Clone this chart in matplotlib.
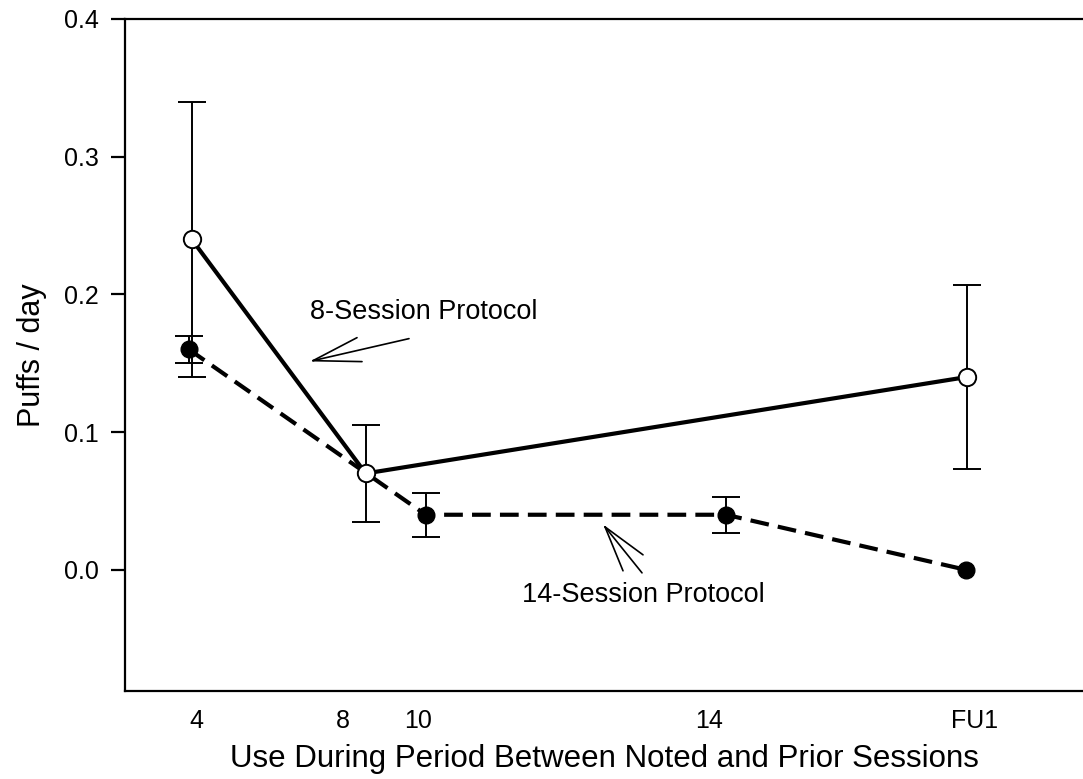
import matplotlib
matplotlib.use("Agg")
import matplotlib.pyplot as plt

plt.rcParams['font.family'] = ['Liberation Sans', 'DejaVu Sans']

# x positions (horizontal position units along the axis)
x_8 = [191.7, 365.7, 966.7]
y_8 = [0.24, 0.07, 0.14]
err_8 = [0.10, 0.035, 0.067]

x_14 = [189.0, 425.7, 726.0, 966.0]
y_14 = [0.16, 0.04, 0.04, 0.0]
err_14 = [0.01, 0.016, 0.013, 0.0]

tick_pos = [196.7, 343.0, 418.0, 709.0, 975.0]
tick_labels = ['4', '8', '10', '14', 'FU1']
yticks = [0.0, 0.1, 0.2, 0.3, 0.4]

W, H = 1083, 779
fig = plt.figure(figsize=(W / 100, H / 100), dpi=100)
ax = fig.add_axes([125 / W, 1 - 690.6 / H, (W - 125) / W, (690.6 - 19) / H])

ax.set_xlim(125, 1083)
ax.set_ylim(-0.0877, 0.4)

# error bars
ax.errorbar(x_8, y_8, yerr=err_8, fmt='none', ecolor='black', elinewidth=1.4,
            capsize=10, capthick=1.4, zorder=2)
ax.errorbar(x_14[:3], y_14[:3], yerr=err_14[:3], fmt='none', ecolor='black',
            elinewidth=1.4, capsize=10, capthick=1.4, zorder=2)

# lines
ax.plot(x_14, y_14, color='black', lw=3, linestyle=(0, (4.5, 2.2)), zorder=3)
ax.plot(x_8, y_8, color='black', lw=3, linestyle='-', zorder=3)

# markers
ax.plot(x_14, y_14, 'o', color='black', markersize=12, zorder=4, linestyle='none')
ax.plot(x_8, y_8, 'o', markerfacecolor='white', markeredgecolor='black',
        markeredgewidth=1.4, markersize=12.5, zorder=5, linestyle='none')

# annotations (arrow drawn as three strokes from the tip)
tip8 = (313, 0.1519)
for end in [(357, 0.1686), (409, 0.1679), (362, 0.1512)]:
    ax.annotate('', xy=tip8, xytext=end,
                arrowprops=dict(arrowstyle='-', lw=1.2, color='black', shrinkA=0, shrinkB=0))
ax.text(424, 0.1875, '8-Session Protocol', ha='center', va='center', fontsize=19.5)

tip14 = (605, 0.0312)
for end in [(623, -0.0007), (642, -0.0022), (643, 0.0109)]:
    ax.annotate('', xy=tip14, xytext=end,
                arrowprops=dict(arrowstyle='-', lw=1.2, color='black', shrinkA=0, shrinkB=0))
ax.text(643, -0.0185, '14-Session Protocol', ha='center', va='center', fontsize=19.5)

# axes styling
ax.spines['right'].set_visible(False)
for s in ['left', 'top', 'bottom']:
    ax.spines[s].set_linewidth(1.6)

ax.set_yticks(yticks)
ax.set_yticklabels([f'{v:.1f}' for v in yticks])
ax.tick_params(axis='y', direction='out', length=10, width=1.6, labelsize=18, pad=9)

ax.set_xticks(tick_pos)
ax.set_xticklabels(tick_labels)
ax.tick_params(axis='x', length=0, labelsize=18, pad=13)

ax.set_xlabel('Use During Period Between Noted and Prior Sessions', fontsize=22.5, labelpad=8)
ax.set_ylabel('Puffs / day', fontsize=22, labelpad=12)

fig.savefig('out.png', dpi=100)
